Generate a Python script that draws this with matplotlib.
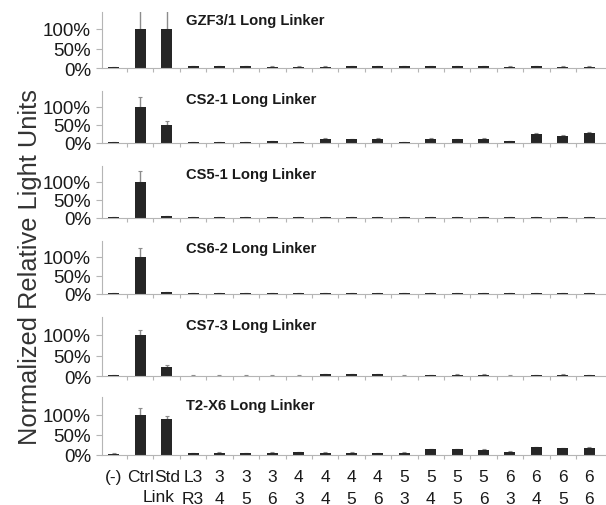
import matplotlib.pyplot as plt
from matplotlib.ticker import FuncFormatter
import numpy as np

plt.rcParams['font.family'] = ['Liberation Sans', 'DejaVu Sans']

labels = ["(-)", "Ctrl", "Std", "L3\nR3", "3\n4", "3\n5", "3\n6",
          "4\n3", "4\n4", "4\n5", "4\n6", "5\n3", "5\n4", "5\n5", "5\n6",
          "6\n3", "6\n4", "6\n5", "6\n6"]
std_second_line = "Link"

titles = ["GZF3/1 Long Linker", "CS2-1 Long Linker", "CS5-1 Long Linker",
          "CS6-2 Long Linker", "CS7-3 Long Linker", "T2-X6 Long Linker"]

gzf3 = [0.02, 1.0, 1.0, 0.04, 0.04, 0.04, 0.03, 0.03, 0.03, 0.04, 0.04,
        0.04, 0.04, 0.04, 0.04, 0.03, 0.05, 0.03, 0.03]
gzf3_err = [0.01, 0.48, 0.48, 0.01, 0.01, 0.01, 0.01, 0.01, 0.01, 0.01, 0.01,
            0.01, 0.01, 0.01, 0.01, 0.01, 0.01, 0.01, 0.01]
cs2 = [0.02, 1.0, 0.5, 0.02, 0.02, 0.02, 0.05, 0.03, 0.12, 0.10, 0.12,
       0.03, 0.12, 0.11, 0.12, 0.05, 0.26, 0.19, 0.27]
cs2_err = [0.01, 0.29, 0.10, 0.01, 0.01, 0.01, 0.01, 0.01, 0.02, 0.01, 0.02,
           0.01, 0.02, 0.01, 0.01, 0.01, 0.02, 0.03, 0.04]
cs5 = [0.02, 1.0, 0.05, 0.02, 0.03, 0.02, 0.03, 0.02, 0.02, 0.03, 0.02,
       0.02, 0.03, 0.02, 0.02, 0.02, 0.02, 0.02, 0.02]
cs5_err = [0.01, 0.30, 0.01, 0.01, 0.01, 0.01, 0.01, 0.01, 0.01, 0.01, 0.01,
           0.01, 0.01, 0.01, 0.01, 0.01, 0.01, 0.01, 0.01]
cs6 = [0.02, 1.0, 0.05, 0.02, 0.03, 0.02, 0.02, 0.03, 0.02, 0.03, 0.02,
       0.02, 0.03, 0.02, 0.02, 0.02, 0.02, 0.02, 0.02]
cs6_err = [0.01, 0.25, 0.01, 0.01, 0.01, 0.01, 0.01, 0.01, 0.01, 0.01, 0.01,
           0.01, 0.01, 0.01, 0.01, 0.01, 0.01, 0.01, 0.01]
cs7 = [0.02, 1.0, 0.22, 0.01, 0.01, 0.01, 0.01, 0.01, 0.04, 0.04, 0.05,
       0.01, 0.02, 0.03, 0.03, 0.01, 0.02, 0.03, 0.02]
cs7_err = [0.01, 0.13, 0.04, 0.01, 0.01, 0.01, 0.01, 0.01, 0.01, 0.01, 0.01,
           0.01, 0.01, 0.01, 0.01, 0.01, 0.01, 0.01, 0.01]
t2x6 = [0.03, 1.0, 0.9, 0.05, 0.06, 0.05, 0.06, 0.07, 0.06, 0.06, 0.05,
        0.06, 0.14, 0.14, 0.13, 0.08, 0.19, 0.17, 0.17]
t2x6_err = [0.01, 0.17, 0.07, 0.01, 0.01, 0.01, 0.01, 0.01, 0.01, 0.01, 0.01,
            0.01, 0.02, 0.01, 0.02, 0.01, 0.02, 0.01, 0.03]

series = [(gzf3, gzf3_err), (cs2, cs2_err), (cs5, cs5_err),
          (cs6, cs6_err), (cs7, cs7_err), (t2x6, t2x6_err)]

# panel placement in pixels: 0% baseline and size of 100%
W, H = 606, 506
baselines = [69, 144, 219, 295, 377, 456]
px100 = [39, 36, 36, 37, 41, 40]
ytop = 1.44

fig = plt.figure(figsize=(W / 100, H / 100), dpi=100)
x = np.arange(len(labels))
axis_col = "#b5b5b5"
xfs = 12.5      # x tick label size
xpad = 10       # points
lsp = 1.58

for k, ((vals, errs), title) in enumerate(zip(series, titles)):
    h = ytop * px100[k]
    ax = fig.add_axes([102 / W, 1 - baselines[k] / H, 503 / W, h / H])
    ax.bar(x, vals, width=0.42, color="#262626", zorder=2)
    ax.errorbar(x, vals, yerr=[np.zeros(len(errs)), errs], fmt="none",
                ecolor="#8c8c8c", elinewidth=1, capsize=1.5, capthick=0.8,
                zorder=1, clip_on=True)
    ax.set_xlim(-0.45, 18.6)
    ax.set_ylim(0, ytop)
    ax.set_yticks([0, 0.5, 1.0])
    ax.yaxis.set_major_formatter(FuncFormatter(lambda v, p: f"{v * 100:.0f}%"))
    ax.tick_params(axis="y", labelsize=13.5, colors=axis_col, labelcolor="#1a1a1a",
                   length=4, width=0.8, pad=4)
    ax.set_xticks(x)
    ax.set_xticks(x[:-1] + 0.5, minor=True)
    ax.tick_params(axis="x", which="major", length=0)
    ax.tick_params(axis="x", which="minor", length=3, width=0.8, colors=axis_col)
    if k == len(series) - 1:
        ax.set_xticklabels(labels, fontsize=xfs, color="#1a1a1a",
                           linespacing=lsp)
        ax.tick_params(axis="x", which="major", pad=xpad)
        # second line under "Std" sits a bit to the left
        ax.annotate(std_second_line, xy=(2, 0), xycoords=("data", "axes fraction"),
                    xytext=(-6, -(xpad + 0.73 * xfs * lsp)),
                    textcoords="offset points", ha="center", va="top",
                    fontsize=xfs, color="#1a1a1a")
    else:
        ax.set_xticklabels([])
    for s in ["top", "right"]:
        ax.spines[s].set_visible(False)
    for s in ["left", "bottom"]:
        ax.spines[s].set_color(axis_col)
        ax.spines[s].set_linewidth(0.8)
    ax.patch.set_alpha(0)
    ax.text(2.75, ytop - 0.02, title, fontsize=10.6, fontweight="bold",
            va="top", ha="left", color="#1a1a1a")

fig.text(30 / W, 1 - 267 / H, "Normalized Relative Light Units", rotation=90,
         ha="center", va="center", fontsize=18.3, color="#333333")

fig.savefig("out.png", dpi=100)
